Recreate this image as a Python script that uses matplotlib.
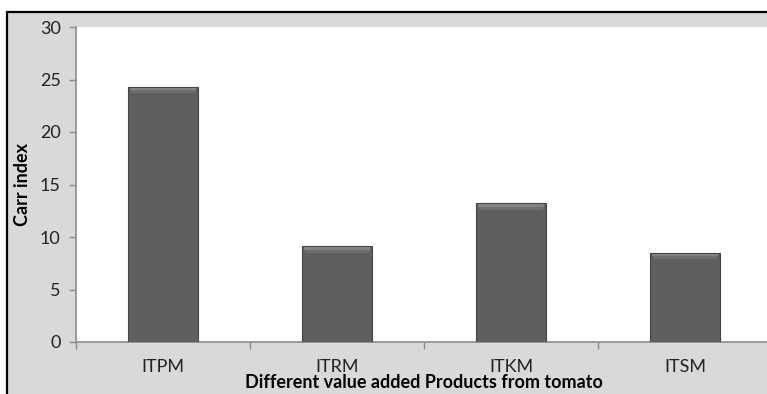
import matplotlib
matplotlib.use("Agg")
import matplotlib.pyplot as plt
from matplotlib.patches import Rectangle
import numpy as np

# Carr index of value added tomato products
categories = ["ITPM", "ITRM", "ITKM", "ITSM"]
carr_index = [24.3, 9.1, 13.2, 8.5]
y_ticks = [0, 5, 10, 15, 20, 25, 30]

plt.rcParams["font.family"] = ["Lato", "DejaVu Sans"]

W, H = 767, 394
fig = plt.figure(figsize=(W / 100, H / 100), dpi=100)
fig.patch.set_facecolor("white")

# gray chart area with black frame (extends past right/bottom edges)
frame = Rectangle((7, -20), W + 40, H + 20 - 12, transform=None,
                  facecolor="#d9d9d9", edgecolor="black", linewidth=1.6,
                  zorder=-1)
fig.patches.append(frame)

left, right, top, bottom = 76, 772, 27, 342
ax = fig.add_axes([left / W, (H - bottom) / H, (right - left) / W,
                   (bottom - top) / H])
ax.set_zorder(1)
ax.set_facecolor("white")

x = np.arange(len(categories))
bw = 0.4
bars = ax.bar(x, carr_index, width=bw, color="#5f5f5f",
              edgecolor="#444444", linewidth=0.8, zorder=3)
# soft bevel near the top of each bar
for xi, v in zip(x, carr_index):
    ax.bar(xi, 0.5, bottom=v - 0.6, width=bw * 0.92, color="#6e6e6e",
           linewidth=0, zorder=4)
    ax.bar(xi, 0.22, bottom=v - 0.3, width=bw * 0.96, color="#828282",
           linewidth=0, zorder=4)

ax.set_xlim(-0.5, len(categories) - 0.5)
ax.set_ylim(0, 30)
ax.set_yticks(y_ticks)
ax.set_yticklabels([str(t) for t in y_ticks], fontsize=13, color="#222222")

ax.set_xticks(x)
ax.set_xticklabels(categories, fontsize=13, color="#222222")
ax.tick_params(axis="x", length=0, pad=12)
ax.set_xticks(np.arange(len(categories)) - 0.5, minor=True)
ax.tick_params(axis="x", which="minor", length=5, color="#8c8c8c", width=1)
ax.tick_params(axis="y", length=5, color="#8c8c8c", width=1, pad=6)

for s in ["top", "right"]:
    ax.spines[s].set_visible(False)
for s in ["left", "bottom"]:
    ax.spines[s].set_color("#8c8c8c")
    ax.spines[s].set_linewidth(1.2)

fig.text(22 / W, 1 - 184 / H, "Carr index", rotation=90, fontsize=13,
         fontweight="bold", ha="center", va="center", color="black")
fig.text(424 / W, 1 - 383 / H, "Different value added Products from tomato",
         fontsize=13, fontweight="bold", ha="center", va="center",
         color="black")

fig.savefig("out.png", dpi=100, facecolor=fig.get_facecolor())
